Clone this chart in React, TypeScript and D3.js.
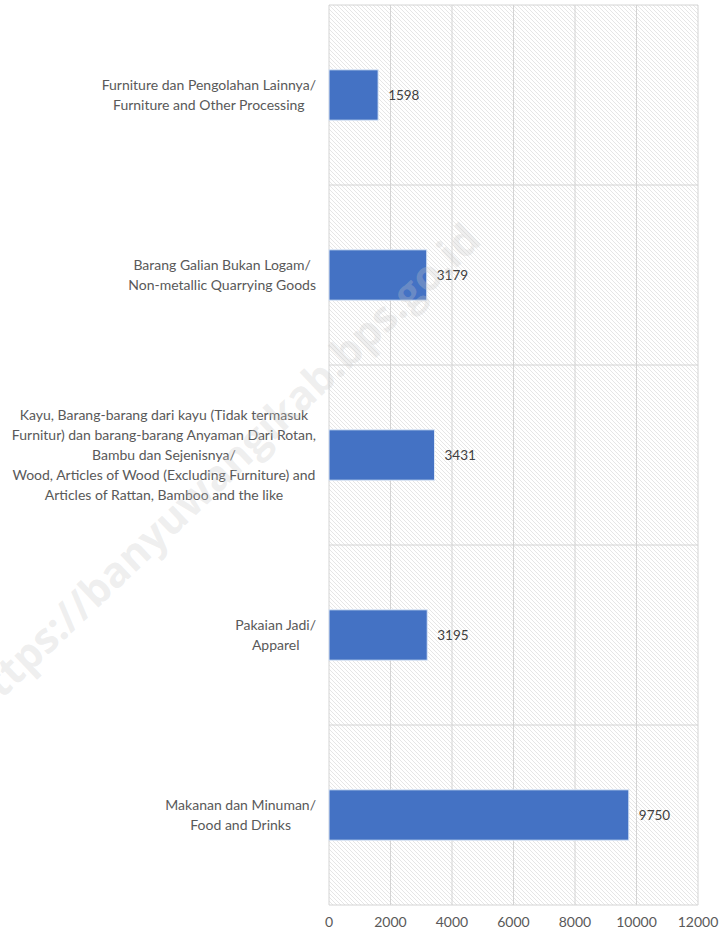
import React from "react";
import * as d3 from "d3";

const categories: string[][] = [
  ["Furniture dan Pengolahan Lainnya/", "Furniture and Other Processing"],
  ["Barang Galian Bukan Logam/", "Non-metallic Quarrying Goods"],
  [
    "Kayu, Barang-barang dari kayu (Tidak termasuk",
    "Furnitur) dan barang-barang Anyaman Dari Rotan,",
    "Bambu dan Sejenisnya/",
    "Wood, Articles of Wood (Excluding Furniture) and",
    "Articles of Rattan, Bamboo and the like",
  ],
  ["Pakaian Jadi/", "Apparel"],
  ["Makanan dan Minuman/", "Food and Drinks"],
];
const values: number[] = [1598, 3179, 3431, 3195, 9750];
const xTicks: number[] = [0, 2000, 4000, 6000, 8000, 10000, 12000];
const watermark = "https://banyuwangikab.bps.go.id";

const W = 720;
const H = 933;
const plot = { left: 329, right: 698, top: 5, bottom: 905 };
const FONT = "Lato, 'Open Sans', sans-serif";

export default function App() {
  const x = d3.scaleLinear().domain([0, 12000]).range([plot.left, plot.right]);
  const idx = categories.map((_, i) => String(i));
  const y = d3
    .scaleBand<string>()
    .domain(idx)
    .range([plot.top, plot.bottom])
    .paddingInner(0.72)
    .paddingOuter(0.36);
  const bounds = d3
    .range(categories.length + 1)
    .map((i) => plot.top + (i * (plot.bottom - plot.top)) / categories.length);

  const lineH = 20;
  const labelRight = 316;

  return (
    <svg
      width={W}
      height={H}
      viewBox={`0 0 ${W} ${H}`}
      style={{ position: "absolute", left: 0, top: 0, background: "#fff" }}
    >
      <defs>
        <pattern id="hatch" width="4" height="4" patternUnits="userSpaceOnUse">
          <rect width="4" height="4" fill="#ffffff" />
          <path d="M-1,-1 L5,5 M-1,3 L1,5 M3,-1 L5,1" stroke="#e0e0e0" strokeWidth="0.8" />
        </pattern>
      </defs>

      <rect
        x={plot.left}
        y={plot.top}
        width={plot.right - plot.left}
        height={plot.bottom - plot.top}
        fill="url(#hatch)"
      />

      {xTicks.map((t) => (
        <line key={"v" + t} x1={x(t)} x2={x(t)} y1={plot.top} y2={plot.bottom} stroke="#d4d4d4" strokeWidth={1} />
      ))}
      {bounds.map((b, i) => (
        <line key={"h" + i} x1={plot.left} x2={plot.right} y1={b} y2={b} stroke="#d4d4d4" strokeWidth={1} />
      ))}

      {values.map((v, i) => (
        <rect
          key={"b" + i}
          x={x(0)}
          y={y(String(i)) as number}
          width={x(v) - x(0)}
          height={y.bandwidth()}
          fill="#4472c4"
          stroke="#dbe6f5"
          strokeWidth={1}
        />
      ))}

      {values.map((v, i) => (
        <text
          key={"vl" + i}
          x={x(v) + 10}
          y={(y(String(i)) as number) + y.bandwidth() / 2}
          dy="0.35em"
          fontFamily={FONT}
          fontSize={13.5}
          fill="#404040"
        >
          {v}
        </text>
      ))}

      {categories.map((lines, i) => (
        <CategoryLabel
          key={"c" + i}
          lines={lines}
          right={labelRight}
          cy={(y(String(i)) as number) + y.bandwidth() / 2}
          lineH={lineH}
        />
      ))}

      {xTicks.map((t) => (
        <text
          key={"t" + t}
          x={x(t)}
          y={922}
          dy="0.35em"
          textAnchor="middle"
          fontFamily={FONT}
          fontSize={14}
          fill="#595959"
        >
          {t}
        </text>
      ))}

      <text
        transform="translate(222,470) rotate(-43.5)"
        textAnchor="middle"
        dy="0.35em"
        fontFamily="'Open Sans', sans-serif"
        fontWeight={700}
        fontSize={42}
        fill="#c8c8c8"
        fillOpacity={0.3}
      >
        {watermark}
      </text>
    </svg>
  );
}

function CategoryLabel({
  lines,
  right,
  cy,
  lineH,
}: {
  lines: string[];
  right: number;
  cy: number;
  lineH: number;
}) {
  const ref = React.useRef<SVGGElement>(null);
  const [cx, setCx] = React.useState<number>(right - 100);
  React.useLayoutEffect(() => {
    if (!ref.current) return;
    const texts = Array.from(ref.current.querySelectorAll("text"));
    const maxW = d3.max(texts, (t) => (t as SVGTextElement).getComputedTextLength()) || 0;
    setCx(right - maxW / 2);
  }, [lines, right]);
  const y0 = cy - ((lines.length - 1) * lineH) / 2;
  return (
    <g ref={ref}>
      {lines.map((l, j) => (
        <text
          key={j}
          x={cx}
          y={y0 + j * lineH}
          dy="0.35em"
          textAnchor="middle"
          fontFamily={FONT}
          fontSize={14}
          fill="#595959"
        >
          {l}
        </text>
      ))}
    </g>
  );
}
